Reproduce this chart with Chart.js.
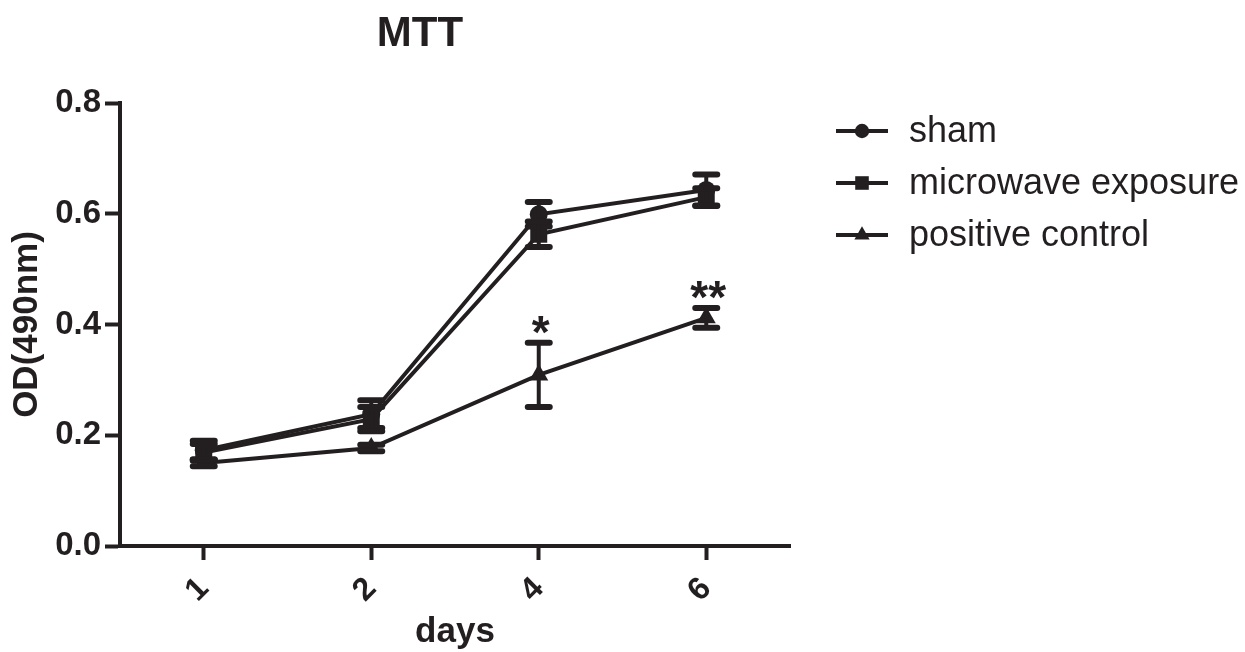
<!DOCTYPE html>
<html>
<head>
<meta charset="utf-8">
<title>MTT</title>
<script src="https://cdn.jsdelivr.net/npm/chart.js@4.4.1/dist/chart.umd.min.js"></script>
<style>
  html, body { margin: 0; padding: 0; background: #fff; }
  #wrap { width: 1245px; height: 652px; }
</style>
</head>
<body>
<div id="wrap"><canvas id="mtt-chart" width="1245" height="652"></canvas></div>
<script>
// values (OD at 490nm, mean and error per day)
const days = ['1', '2', '4', '6'];
const shamMean = [0.173, 0.238, 0.599, 0.643];
const shamErr = [0.017, 0.025, 0.022, 0.028];
const microwaveMean = [0.169, 0.229, 0.563, 0.630];
const microwaveErr = [0.015, 0.022, 0.023, 0.016];
const positiveMean = [0.150, 0.177, 0.309, 0.412];
const positiveErr = [0.006, 0.006, 0.058, 0.018];
const positiveStars = ['', '', '*', '**'];
const yTicks = [0, 0.2, 0.4, 0.6, 0.8];

const INK = '#231f20';
const FONT = '"Liberation Sans", Arial, Helvetica, sans-serif';

// error bars + significance stars, drawn with the y scale
const errorBarPlugin = {
    id: 'errorBars',
    afterDatasetsDraw(chart) {
        const ctx = chart.ctx;
        const yScale = chart.scales.y;
        ctx.save();
        ctx.strokeStyle = INK;
        ctx.fillStyle = INK;
        ctx.lineCap = 'round';
        chart.data.datasets.forEach(function(ds, i) {
            const meta = chart.getDatasetMeta(i);
            meta.data.forEach(function(pt, j) {
                const err = ds.errorBars[j];
                const yTop = yScale.getPixelForValue(ds.data[j] + err);
                const yBot = yScale.getPixelForValue(ds.data[j] - err);
                const half = 11;
                ctx.lineWidth = 4;
                ctx.beginPath();
                ctx.moveTo(pt.x, yTop);
                ctx.lineTo(pt.x, yBot);
                ctx.stroke();
                ctx.lineWidth = 6;
                ctx.beginPath();
                ctx.moveTo(pt.x - half, yTop);
                ctx.lineTo(pt.x + half, yTop);
                ctx.moveTo(pt.x - half, yBot);
                ctx.lineTo(pt.x + half, yBot);
                ctx.stroke();
                if (ds.stars && ds.stars[j]) {
                    ctx.font = 'bold 46px ' + FONT;
                    ctx.textAlign = 'center';
                    ctx.textBaseline = 'alphabetic';
                    ctx.fillText(ds.stars[j], pt.x + 2, yTop + 5);
                }
            });
        });
        ctx.restore();
    }
};

// title and the line+marker legend on the right
const decorPlugin = {
    id: 'decor',
    afterDraw(chart) {
        const ctx = chart.ctx;
        ctx.save();
        ctx.fillStyle = INK;
        ctx.strokeStyle = INK;
        ctx.font = 'bold 42px ' + FONT;
        ctx.textAlign = 'center';
        ctx.textBaseline = 'middle';
        ctx.fillText('MTT', 420, 34);

        chart.data.datasets.forEach(function(ds, i) {
            const y = 131 + i * 52;
            ctx.lineWidth = 4;
            ctx.beginPath();
            ctx.moveTo(836, y);
            ctx.lineTo(888, y);
            ctx.stroke();
            Chart.helpers.drawPoint(ctx, {
                pointStyle: ds.pointStyle,
                radius: ds.pointRadius * 0.8,
                rotation: 0,
                borderWidth: 0
            }, 862, y);
            ctx.font = '36px ' + FONT;
            ctx.textAlign = 'left';
            ctx.textBaseline = 'middle';
            ctx.fillText(ds.label, 909, y + 1);
        });
        ctx.restore();
    }
};

function makeSeries(label, data, errs, style, radius, stars) {
    return {
        label: label,
        data: data,
        errorBars: errs,
        stars: stars,
        borderColor: INK,
        backgroundColor: INK,
        borderWidth: 4,
        pointStyle: style,
        pointRadius: radius,
        pointBorderWidth: 0,
        pointBackgroundColor: INK,
        tension: 0,
        fill: false
    };
}

const ctx = document.getElementById('mtt-chart').getContext('2d');
const mttChart = new Chart(ctx, {
    type: 'line',
    data: {
        labels: days,
        datasets: [
            makeSeries('sham', shamMean, shamErr, 'circle', 9),
            makeSeries('microwave exposure', microwaveMean, microwaveErr, 'rect', 12),
            makeSeries('positive control', positiveMean, positiveErr, 'triangle', 11, positiveStars)
        ]
    },
    options: {
        responsive: false,
        animation: false,
        layout: { padding: { left: 0, top: 103, right: 455, bottom: 0 } },
        plugins: {
            legend: { display: false },
            title: { display: false },
            tooltip: { enabled: false }
        },
        scales: {
            x: {
                offset: true,
                afterFit: function(axis) { axis.height = 106; },
                border: { display: true, color: INK, width: 4 },
                grid: { drawOnChartArea: false, drawTicks: true, tickLength: 14, tickColor: INK, tickWidth: 4 },
                ticks: {
                    color: INK,
                    font: { family: FONT, size: 32, weight: 'bold' },
                    minRotation: 45,
                    maxRotation: 45,
                    padding: 10
                },
                title: {
                    display: true,
                    text: 'days',
                    color: INK,
                    font: { family: FONT, size: 35, weight: 'bold', lineHeight: 1 },
                    padding: { top: 0, bottom: 2 }
                }
            },
            y: {
                min: 0,
                max: 0.8,
                afterBuildTicks: function(axis) {
                    axis.ticks = yTicks.map(function(v) { return { value: v }; });
                },
                afterFit: function(axis) { axis.width = 120; },
                border: { display: true, color: INK, width: 4 },
                grid: { drawOnChartArea: false, drawTicks: true, tickLength: 15, tickColor: INK, tickWidth: 4 },
                ticks: {
                    color: INK,
                    font: { family: FONT, size: 33, weight: 'bold' },
                    padding: 4,
                    callback: function(v) { return Number(v).toFixed(1); }
                },
                title: {
                    display: true,
                    text: 'OD(490nm)',
                    color: INK,
                    font: { family: FONT, size: 35, weight: 'bold', lineHeight: 1.2 },
                    padding: { top: 6, bottom: 0 }
                }
            }
        }
    },
    plugins: [errorBarPlugin, decorPlugin]
});
</script>
</body>
</html>
